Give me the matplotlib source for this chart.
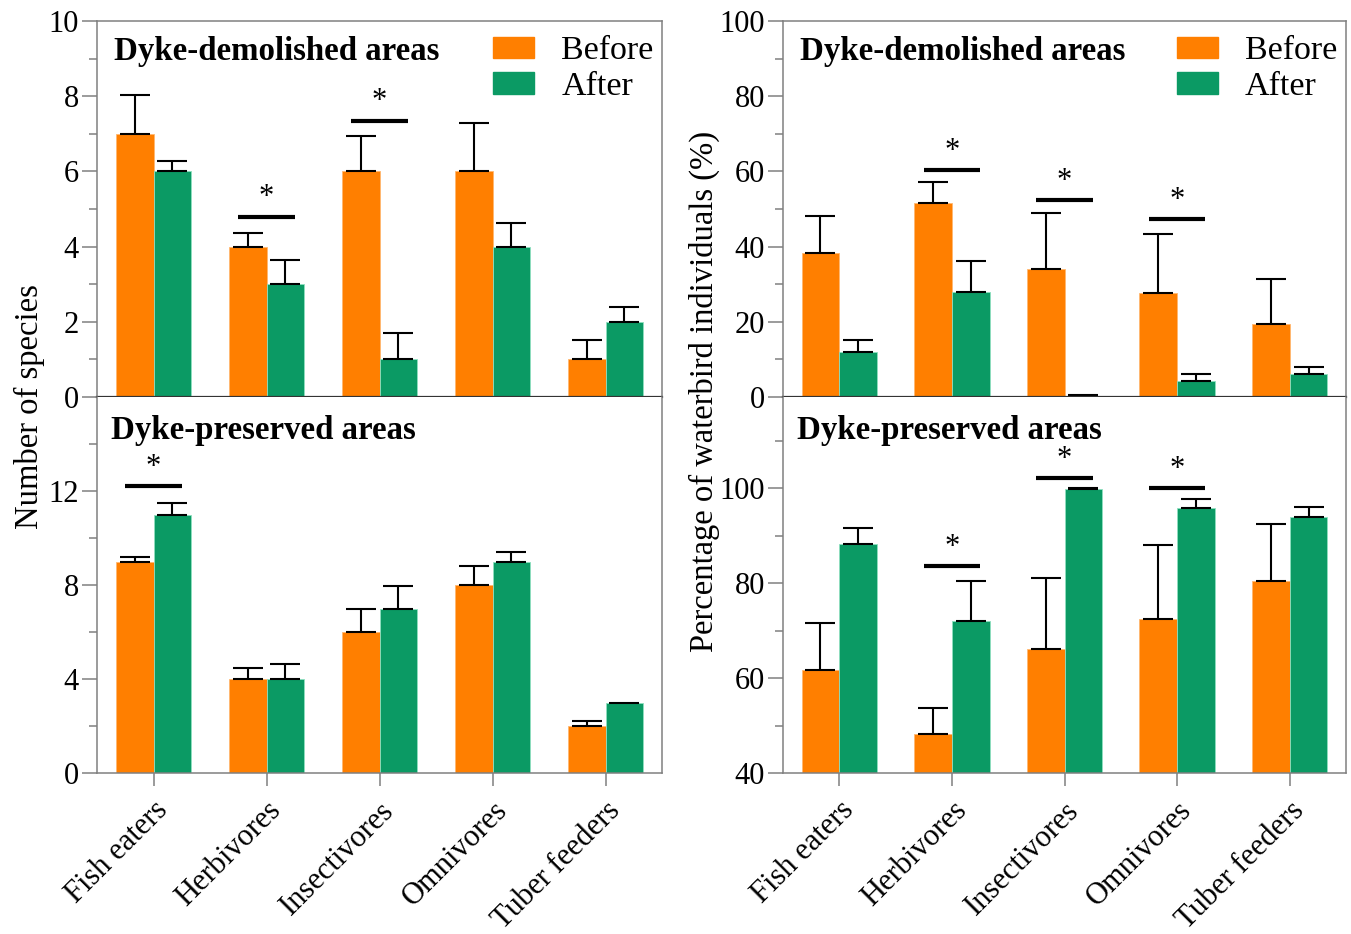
import numpy as np
import matplotlib.pyplot as plt
from matplotlib.patches import Patch

plt.rcParams['font.family'] = ['Liberation Serif', 'DejaVu Serif']

groups = ['Fish eaters', 'Herbivores', 'Insectivores', 'Omnivores', 'Tuber feeders']

# number of species, dyke-demolished areas
sp_dem_before = [7, 4, 6, 6, 1]
sp_dem_before_err = [1.02, 0.37, 0.93, 1.3, 0.52]
sp_dem_after = [6, 3, 1, 4, 2]
sp_dem_after_err = [0.28, 0.65, 0.7, 0.62, 0.4]
sp_dem_sig = {1: 4.8, 2: 7.35}

# number of species, dyke-preserved areas
sp_pre_before = [9, 4, 6, 8, 2]
sp_pre_before_err = [0.2, 0.45, 1.0, 0.8, 0.23]
sp_pre_after = [11, 4, 7, 9, 3]
sp_pre_after_err = [0.5, 0.64, 0.95, 0.42, np.nan]
sp_pre_sig = {0: 12.2}

# percentage of individuals, dyke-demolished areas
pc_dem_before = [38.2, 51.7, 34.0, 27.6, 19.5]
pc_dem_before_err = [9.9, 5.4, 15.0, 15.8, 11.9]
pc_dem_after = [11.9, 27.8, 0.3, 4.3, 6.0]
pc_dem_after_err = [3.2, 8.5, 0.1, 1.8, 2.1]
pc_dem_sig = {1: 60.3, 2: 52.3, 3: 47.3}

# percentage of individuals, dyke-preserved areas
pc_pre_before = [61.7, 48.3, 66.1, 72.4, 80.5]
pc_pre_before_err = [9.9, 5.4, 15.0, 15.7, 12.0]
pc_pre_after = [88.2, 72.1, 99.9, 95.9, 94.0]
pc_pre_after_err = [3.4, 8.4, 0.15, 1.8, 2.1]
pc_pre_sig = {1: 83.5, 2: 102.2, 3: 100.1}

c_before = '#ff7f00'
c_after = '#0b9a64'
grey = '#808080'
w = 0.335
x = np.arange(len(groups))

fig = plt.figure(figsize=(13.51, 9.34), dpi=100)


def panel(rect, before, b_err, after, a_err, sig, ylim, major, minor, title, top):
    ax = fig.add_axes(rect)
    ax.bar(x - w / 2, before, w, color=c_before, edgecolor='#ffb870', linewidth=0.6, zorder=2)
    ax.bar(x + w / 2, after, w, color=c_after, edgecolor='#8fe0c0', linewidth=0.6, zorder=2)
    zeros = np.zeros(len(x))
    ax.errorbar(x - w / 2, before, yerr=[zeros, b_err], fmt='none', ecolor='black',
                elinewidth=1.5, capsize=11, capthick=1.5, zorder=3)
    ax.errorbar(x + w / 2, after, yerr=[zeros, a_err], fmt='none', ecolor='black',
                elinewidth=1.5, capsize=11, capthick=1.5, zorder=3)
    for i, yv in sig.items():
        ax.plot([i - 0.25, i + 0.25], [yv, yv], color='black', lw=3, solid_capstyle='butt')
        ax.annotate('*', (i, yv), xytext=(0, 3), textcoords='offset points',
                    ha='center', va='bottom', fontsize=22)
    ax.set_xlim(-0.5, 4.5)
    ax.set_ylim(*ylim)
    ax.set_yticks(major)
    ax.set_yticks(minor, minor=True)
    ax.set_xticks(x)
    for s in ax.spines.values():
        s.set_color(grey)
        s.set_linewidth(1.1)
    ax.tick_params(axis='y', which='major', length=11, width=1.1, color=grey,
                   labelsize=22, pad=2)
    ax.tick_params(axis='y', which='minor', length=5.5, width=1.1, color=grey)
    ax.tick_params(axis='x', length=9.5, width=1.1, color=grey)
    if top:
        ax.spines['bottom'].set_color('#333333')
        ax.spines['bottom'].set_linewidth(1.6)
        ax.spines['bottom'].set_zorder(4)
        ax.set_xticklabels([])
        ax.text(0.03, 0.918, title, transform=ax.transAxes, fontsize=23.7,
                fontweight='bold', va='center')
        ax.legend(handles=[Patch(color=c_before, label='Before'),
                           Patch(color=c_after, label='After')],
                  loc='upper right', bbox_to_anchor=(1.03, 1.028), frameon=False,
                  fontsize=24.5, handlelength=1.2, handleheight=0.6,
                  handletextpad=0.8, labelspacing=0.15, borderpad=0.25)
    else:
        ax.spines['top'].set_visible(False)
        ax.set_xticklabels(groups, rotation=45, ha='right', va='top',
                           rotation_mode='anchor', fontsize=22)
        ax.tick_params(axis='x', pad=7)
        ax.text(0.025, 0.91, title, transform=ax.transAxes, fontsize=23.7,
                fontweight='bold', va='center')
    return ax


L, R = 97 / 1351, 783 / 1351
WL, WR = 565 / 1351, 563 / 1351
H = 376 / 934
BT, BB = 537 / 934, 161 / 934

panel([L, BT, WL, H], sp_dem_before, sp_dem_before_err, sp_dem_after, sp_dem_after_err,
      sp_dem_sig, (0, 10), [0, 2, 4, 6, 8, 10], [1, 3, 5, 7, 9],
      'Dyke-demolished areas', True)
panel([L, BB, WL, H], sp_pre_before, sp_pre_before_err, sp_pre_after, sp_pre_after_err,
      sp_pre_sig, (0, 16), [0, 4, 8, 12], [2, 6, 10, 14],
      'Dyke-preserved areas', False)
panel([R, BT, WR, H], pc_dem_before, pc_dem_before_err, pc_dem_after, pc_dem_after_err,
      pc_dem_sig, (0, 100), [0, 20, 40, 60, 80, 100], [10, 30, 50, 70, 90],
      'Dyke-demolished areas', True)
panel([R, BB, WR, H], pc_pre_before, pc_pre_before_err, pc_pre_after, pc_pre_after_err,
      pc_pre_sig, (40, 119.2), [40, 60, 80, 100], [50, 70, 90, 110],
      'Dyke-preserved areas', False)

fig.text(29 / 1351, 1 - 407 / 934, 'Number of species', rotation=90,
         ha='center', va='center', fontsize=23.5)
fig.text(704 / 1351, 1 - 391 / 934, 'Percentage of waterbird individuals (%)',
         rotation=90, ha='center', va='center', fontsize=23.5)

fig.savefig('out.png', dpi=100)
